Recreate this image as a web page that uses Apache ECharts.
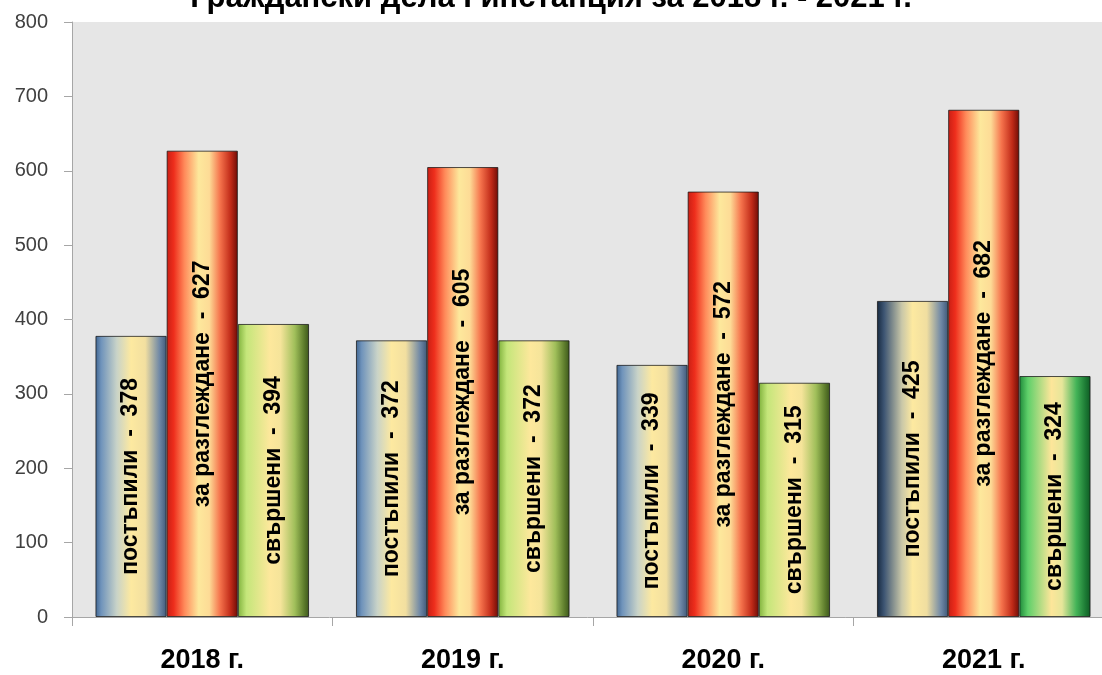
<!DOCTYPE html>
<html><head><meta charset="utf-8">
<script src="https://cdn.jsdelivr.net/npm/echarts@6/dist/echarts.min.js"></script>
<style>html,body{margin:0;padding:0;background:#fff}#c{width:1102px;height:675px}</style>
</head><body><div id="c"></div>
<script>
var titleText = 'Граждански дела І инстанция за 2018 г. - 2021 г.';
var categories = ['2018 г.', '2019 г.', '2020 г.', '2021 г.'];
var seriesNames = ['постъпили', 'за разглеждане', 'свършени'];
var received = [378, 372, 339, 425];
var pending = [627, 605, 572, 682];
var finished = [394, 372, 315, 324];
var yTicks = [0, 100, 200, 300, 400, 500, 600, 700, 800];

function grad(stops) {
  return new echarts.graphic.LinearGradient(0, 0, 1, 0, stops.map(function (s) { return { offset: s[0], color: s[1] }; }));
}
var blue = grad([[0, '#3f6590'], [0.08, '#6f93bb'], [0.3, '#c9d3c8'], [0.5, '#fde9a0'], [0.7, '#f2dfa0'], [0.9, '#6f88a6'], [1, '#3f5878']]);
var blueDark = grad([[0, '#16283e'], [0.1, '#3d5573'], [0.35, '#c9c7a8'], [0.5, '#fde9a0'], [0.7, '#f0dea0'], [0.9, '#6f88a6'], [1, '#3f5878']]);
var red = grad([[0, '#c81e14'], [0.1, '#ee2e1c'], [0.25, '#ff8a5a'], [0.45, '#fde89c'], [0.6, '#fddb96'], [0.75, '#f5734c'], [0.9, '#c02a18'], [1, '#6e0c06']]);
var green = grad([[0, '#7fb23c'], [0.12, '#c4e67a'], [0.45, '#fde89c'], [0.6, '#f5e49a'], [0.8, '#a0bf5a'], [0.93, '#5d7c2c'], [1, '#3c561c']]);
var greenBright = grad([[0, '#1e8a3a'], [0.12, '#5fd06a'], [0.45, '#fde69a'], [0.6, '#e6e69a'], [0.8, '#44b458'], [0.93, '#1c7a34'], [1, '#0f5a24']]);

function items(vals, name, colors) {
  return vals.map(function (v, i) {
    return { value: v, itemStyle: { color: colors[i] }, label: { formatter: name + '  -  ' + v } };
  });
}
var labelStyle = {
  show: true, position: 'inside', rotate: 90, color: '#000',
  fontFamily: 'Liberation Sans', fontWeight: 'bold', fontSize: 23
};
var barStyle = { borderColor: 'rgba(20,20,20,0.75)', borderWidth: 1 };

var chart = echarts.init(document.getElementById('c'));
chart.setOption({
  animation: false,
  backgroundColor: '#ffffff',
  title: {
    text: titleText, left: 'center', top: -22,
    textStyle: { fontFamily: 'Liberation Sans', fontWeight: 'bold', fontSize: 31, color: '#000' }
  },
  grid: { left: 72, width: 1042, top: 22, bottom: 58, outerBoundsMode: 'none', containLabel: false, backgroundColor: '#e6e6e6', show: true, borderWidth: 0 },
  xAxis: {
    type: 'category', data: categories,
    axisLine: { lineStyle: { color: '#a6a6a6', width: 1 } },
    axisTick: { show: true, length: 9, lineStyle: { color: '#a6a6a6' } },
    axisLabel: { margin: 30, color: '#000', fontFamily: 'Liberation Sans', fontWeight: 'bold', fontSize: 27 }
  },
  yAxis: {
    type: 'value', min: yTicks[0], max: yTicks[yTicks.length - 1], interval: 100,
    axisLine: { show: true, lineStyle: { color: '#a6a6a6' } },
    axisTick: { show: true, length: 8, lineStyle: { color: '#a6a6a6' } },
    splitLine: { show: false },
    axisLabel: { margin: 24, color: '#404040', fontFamily: 'Liberation Sans', fontSize: 20 }
  },
  series: [
    { name: seriesNames[0], type: 'bar', barGap: '0%', barCategoryGap: '18%', data: items(received, seriesNames[0], [blue, blue, blue, blueDark]), label: labelStyle, itemStyle: barStyle },
    { name: seriesNames[1], type: 'bar', barGap: '0%', barCategoryGap: '18%', data: items(pending, seriesNames[1], [red, red, red, red]), label: labelStyle, itemStyle: barStyle },
    { name: seriesNames[2], type: 'bar', barGap: '0%', barCategoryGap: '18%', data: items(finished, seriesNames[2], [green, green, green, greenBright]), label: labelStyle, itemStyle: barStyle }
  ]
});
</script>
</body></html>
